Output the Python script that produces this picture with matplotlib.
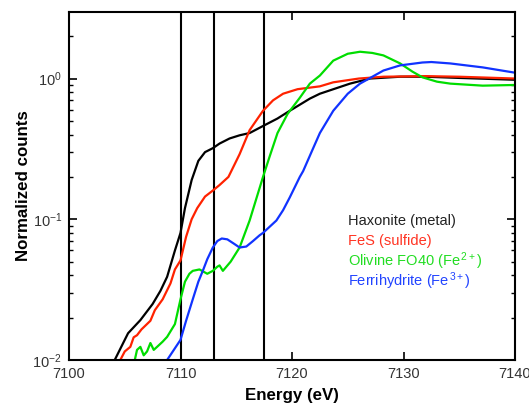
import matplotlib
matplotlib.use("Agg")
import matplotlib.pyplot as plt
from matplotlib.ticker import LogLocator, FixedLocator

plt.rcParams['font.family'] = ['Liberation Sans', 'DejaVu Sans']
plt.rcParams['mathtext.fontset'] = 'custom'
plt.rcParams['mathtext.rm'] = 'Liberation Sans'
plt.rcParams['mathtext.it'] = 'Liberation Sans:italic'
plt.rcParams['mathtext.bf'] = 'Liberation Sans:bold'

# ---- data ----
haxonite_E = [7103.5, 7104.1, 7105.0, 7105.3, 7106.4, 7107.5, 7108.2, 7108.8, 7109.5, 7110.0,
              7110.4, 7111.0, 7111.6, 7112.2, 7112.9, 7113.5, 7114.4, 7115.3, 7116.2, 7117.4,
              7118.7, 7119.8, 7121.6, 7122.5, 7125.2, 7127.0, 7129.7, 7132.0, 7135.0, 7140.0]
haxonite_y = [0.0085, 0.010, 0.0139, 0.0155, 0.0192, 0.025, 0.031, 0.039, 0.060, 0.080,
              0.120, 0.190, 0.260, 0.300, 0.320, 0.345, 0.375, 0.395, 0.410, 0.460,
              0.520, 0.590, 0.720, 0.780, 0.920, 1.00, 1.03, 1.03, 1.01, 0.98]

fes_E = [7104.0, 7104.6, 7105.0, 7105.5, 7105.8, 7106.1, 7106.5, 7107.3, 7107.7, 7108.4,
         7109.1, 7109.5, 7110.0, 7110.5, 7111.0, 7111.5, 7112.2, 7112.9, 7113.5, 7114.3,
         7115.3, 7116.2, 7117.4, 7118.3, 7119.2, 7120.5, 7122.5, 7123.7, 7126.0, 7128.2,
         7132.0, 7135.0, 7140.0]
fes_y = [0.0085, 0.010, 0.0115, 0.0124, 0.0145, 0.0150, 0.0165, 0.019, 0.0226, 0.027,
         0.035, 0.044, 0.051, 0.075, 0.100, 0.120, 0.145, 0.160, 0.175, 0.200,
         0.290, 0.430, 0.590, 0.700, 0.780, 0.840, 0.880, 0.940, 1.00, 1.03,
         1.04, 1.03, 1.00]

olivine_E = [7105.5, 7105.9, 7106.1, 7106.4, 7106.7, 7107.0, 7107.3, 7107.6, 7107.9, 7108.4,
             7108.8, 7109.5, 7110.0, 7110.4, 7110.8, 7111.1, 7111.7, 7112.4, 7112.9, 7113.3,
             7113.5, 7113.8, 7114.5, 7115.3, 7116.2, 7116.8, 7117.4, 7118.0, 7118.7, 7119.6,
             7120.7, 7121.6, 7122.5, 7123.7, 7125.0, 7126.1, 7127.2, 7128.2, 7129.7, 7130.8,
             7131.7, 7133.0, 7134.2, 7137.1, 7140.0]
olivine_y = [0.009, 0.010, 0.0118, 0.0124, 0.0108, 0.0115, 0.0132, 0.0118, 0.0124, 0.0135,
             0.0146, 0.018, 0.027, 0.036, 0.041, 0.043, 0.044, 0.041, 0.043, 0.046,
             0.047, 0.043, 0.050, 0.063, 0.098, 0.140, 0.200, 0.280, 0.410, 0.560,
             0.730, 0.920, 1.05, 1.34, 1.50, 1.55, 1.52, 1.46, 1.28, 1.12,
             1.02, 0.95, 0.92, 0.89, 0.90]

ferri_E = [7108.4, 7108.8, 7110.0, 7110.5, 7111.1, 7111.6, 7112.0, 7112.4, 7112.9, 7113.3,
           7113.7, 7114.2, 7114.8, 7115.3, 7115.9, 7116.5, 7117.1, 7117.4, 7118.6, 7119.2,
           7119.8, 7120.7, 7121.0, 7121.9, 7122.5, 7123.7, 7125.0, 7126.1, 7128.2, 7129.7,
           7131.7, 7132.5, 7134.2, 7137.1, 7140.0]
ferri_y = [0.0085, 0.010, 0.0139, 0.019, 0.027, 0.036, 0.043, 0.052, 0.063, 0.070,
           0.073, 0.072, 0.067, 0.063, 0.064, 0.070, 0.077, 0.080, 0.098, 0.116,
           0.143, 0.200, 0.220, 0.320, 0.410, 0.590, 0.780, 0.920, 1.14, 1.24,
           1.30, 1.31, 1.28, 1.20, 1.10]

edge_markers = [7110.0, 7113.0, 7117.5]

labels = ['Haxonite (metal)', 'FeS (sulfide)',
          'Olivine FO40 (Fe$^{\\,2+}$)', 'Ferrihydrite (Fe$^{\\,3+}$)']
x_ticks = [7100, 7110, 7120, 7130, 7140]

# ---- figure ----
fig = plt.figure(figsize=(5.29, 4.07), dpi=100)
ax = fig.add_axes([69/529, 47/407, 446/529, 348/407])

line_colors = ['#000000', '#ff2200', '#00dd00', '#1133ff']
text_colors = ['#222222', '#ff3322', '#22dd22', '#2244ff']
series = [(haxonite_E, haxonite_y), (fes_E, fes_y), (olivine_E, olivine_y), (ferri_E, ferri_y)]

for x in edge_markers:
    ax.axvline(x, color='black', lw=1.5, zorder=1)

for (E, y), c in zip(series, line_colors):
    ax.plot(E, y, color=c, lw=1.6, zorder=2)

ax.set_yscale('log')
ax.set_xlim(7100, 7140)
ax.set_ylim(0.01, 2.97)
ax.xaxis.set_major_locator(FixedLocator(x_ticks))
ax.yaxis.set_major_locator(LogLocator(base=10, numticks=10))
ax.yaxis.set_minor_locator(LogLocator(base=10, subs=range(2, 10), numticks=20))

for s in ax.spines.values():
    s.set_linewidth(1.5)

ax.tick_params(axis='both', which='major', direction='in', length=6, width=1.2,
               top=True, right=True, labelsize=10.5, labelcolor='#333333', pad=5)
ax.tick_params(axis='y', which='minor', direction='in', length=3, width=1.0,
               left=True, right=True)

ax.set_xlabel('Energy (eV)', fontsize=12.2, fontweight='bold', labelpad=5)
ax.set_ylabel('Normalized counts', fontsize=12.2, fontweight='bold', labelpad=1)

ys = [0.399, 0.342, 0.284, 0.227]
for lab, c, yy in zip(labels, text_colors, ys):
    ax.text(0.626, yy, lab, color=c, fontsize=10.5, transform=ax.transAxes,
            va='center', ha='left')

fig.savefig('out.png', dpi=100)
